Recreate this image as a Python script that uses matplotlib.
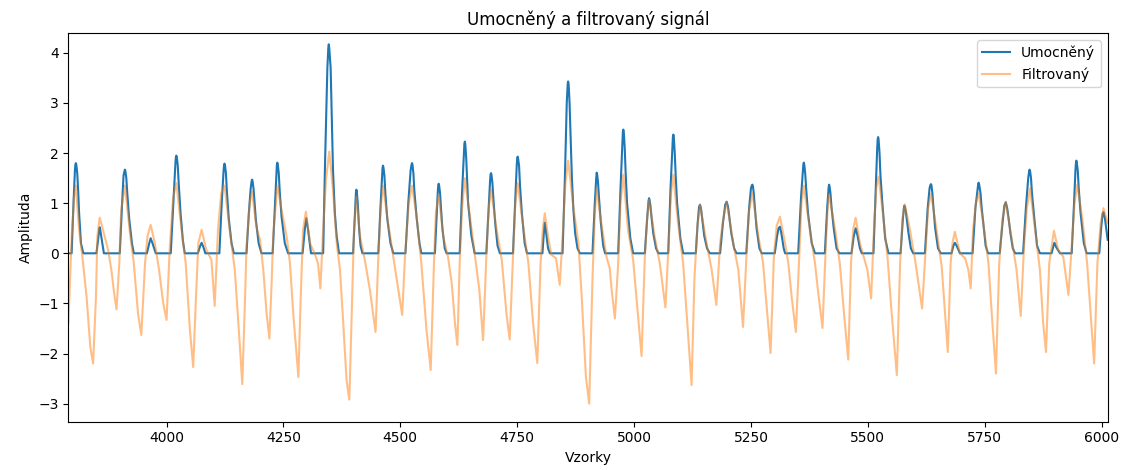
import matplotlib
matplotlib.use("Agg")
import matplotlib.pyplot as plt

# traced vertices of the squared signal, one row per beat (sample index, amplitude)
umocneny_x = [
    [3790, 3797, 3801, 3804, 3805, 3806, 3807, 3809, 3811, 3813, 3817, 3822],
    [3850, 3854, 3856, 3857, 3858, 3861, 3866],
    [3900, 3905, 3908, 3910, 3911, 3912, 3914, 3916, 3920, 3926, 3930],
    [3958, 3963, 3966, 3970, 3977],
    [4009, 4015, 4019, 4020, 4021, 4022, 4024, 4026, 4030, 4035, 4039],
    [4067, 4072, 4075, 4079, 4083],
    [4113, 4118, 4122, 4123, 4124, 4125, 4127, 4129, 4133, 4139, 4144],
    [4171, 4176, 4180, 4182, 4183, 4184, 4186, 4188, 4191, 4197, 4203],
    [4227, 4232, 4235, 4236, 4237, 4238, 4240, 4242, 4246, 4253, 4260],
    [4291, 4296, 4299, 4303, 4309],
    [4335, 4339, 4344, 4346, 4347, 4348, 4351, 4353, 4356, 4360, 4364, 4369],
    [4399, 4403, 4405, 4406, 4407, 4409, 4412, 4415, 4419],
    [4453, 4458, 4461, 4462, 4463, 4464, 4466, 4468, 4472, 4479, 4485],
    [4511, 4517, 4522, 4524, 4525, 4526, 4528, 4530, 4535, 4541, 4545],
    [4574, 4578, 4580, 4581, 4582, 4583, 4585, 4587, 4590, 4595, 4599],
    [4627, 4632, 4636, 4637, 4638, 4639, 4641, 4643, 4645, 4652, 4659],
    [4684, 4689, 4692, 4693, 4694, 4695, 4697, 4699, 4703, 4708, 4713],
    [4741, 4746, 4749, 4750, 4751, 4752, 4754, 4756, 4760, 4766, 4771],
    [4804, 4807, 4809, 4812, 4816, 4820],
    [4847, 4852, 4856, 4858, 4859, 4860, 4862, 4864, 4867, 4870, 4874, 4879, 4884],
    [4911, 4916, 4919, 4920, 4921, 4923, 4925, 4929, 4934, 4938],
    [4966, 4971, 4975, 4976, 4977, 4978, 4980, 4982, 4985, 4992, 4998],
    [5023, 5028, 5031, 5032, 5033, 5035, 5037, 5041, 5047, 5052],
    [5073, 5078, 5082, 5083, 5084, 5085, 5087, 5089, 5092, 5099, 5105],
    [5132, 5136, 5139, 5141, 5143, 5145, 5150, 5156, 5162],
    [5184, 5190, 5195, 5198, 5201, 5204, 5208, 5214, 5219],
    [5240, 5246, 5250, 5252, 5253, 5254, 5256, 5258, 5262, 5268, 5273],
    [5301, 5306, 5309, 5312, 5315, 5320, 5323],
    [5351, 5357, 5361, 5362, 5363, 5364, 5366, 5368, 5372, 5380, 5387],
    [5408, 5413, 5416, 5417, 5418, 5420, 5422, 5427, 5433, 5439],
    [5465, 5470, 5474, 5478, 5483, 5487],
    [5512, 5517, 5520, 5521, 5522, 5523, 5525, 5527, 5531, 5537, 5544],
    [5570, 5575, 5577, 5578, 5579, 5581, 5587, 5592, 5597],
    [5622, 5628, 5632, 5634, 5635, 5636, 5638, 5640, 5644, 5650, 5656],
    [5679, 5683, 5686, 5690, 5697],
    [5724, 5730, 5735, 5736, 5737, 5738, 5741, 5743, 5747, 5752, 5757],
    [5782, 5788, 5792, 5795, 5798, 5801, 5805, 5810, 5815],
    [5832, 5838, 5843, 5845, 5846, 5847, 5849, 5851, 5856, 5862, 5868],
    [5893, 5897, 5899, 5903, 5911],
    [5936, 5941, 5944, 5945, 5946, 5947, 5949, 5951, 5955, 5962, 5968],
    [5995, 5999, 6002, 6004, 6007, 6013],
]
umocneny_y = [
    [0, 0, 1.0, 1.65, 1.77, 1.8, 1.77, 1.6, 1.25, 0.8, 0.2, 0],
    [0, 0.3, 0.48, 0.52, 0.48, 0.3, 0],
    [0, 1.0, 1.55, 1.64, 1.67, 1.64, 1.5, 1.2, 0.7, 0.2, 0],
    [0, 0.2, 0.3, 0.2, 0],
    [0, 1.1, 1.8, 1.92, 1.95, 1.92, 1.75, 1.4, 0.8, 0.25, 0],
    [0, 0.15, 0.21, 0.12, 0],
    [0, 1.0, 1.65, 1.76, 1.79, 1.76, 1.6, 1.25, 0.7, 0.2, 0],
    [0, 0.8, 1.3, 1.44, 1.47, 1.44, 1.3, 1.05, 0.67, 0.2, 0],
    [0, 1.0, 1.6, 1.77, 1.81, 1.77, 1.6, 1.25, 0.73, 0.2, 0],
    [0, 0.5, 0.7, 0.45, 0],
    [0, 1.8, 3.7, 4.1, 4.17, 4.1, 3.7, 2.9, 1.67, 0.8, 0.33, 0],
    [0, 0.8, 1.2, 1.27, 1.22, 1.0, 0.47, 0.15, 0],
    [0, 1.0, 1.55, 1.71, 1.75, 1.71, 1.55, 1.2, 0.7, 0.2, 0],
    [0, 1.0, 1.65, 1.77, 1.8, 1.77, 1.6, 1.25, 0.7, 0.2, 0],
    [0, 0.8, 1.2, 1.34, 1.39, 1.36, 1.2, 0.9, 0.5, 0.1, 0],
    [0, 1.2, 2.0, 2.18, 2.23, 2.18, 1.9, 1.45, 1.0, 0.35, 0],
    [0, 0.9, 1.45, 1.57, 1.6, 1.57, 1.4, 1.1, 0.6, 0.15, 0],
    [0, 1.1, 1.75, 1.89, 1.93, 1.89, 1.75, 1.35, 0.8, 0.2, 0],
    [0, 0.4, 0.61, 0.4, 0.1, 0],
    [0, 1.5, 3.0, 3.38, 3.43, 3.38, 3.0, 2.4, 1.5, 0.9, 0.4, 0.1, 0],
    [0, 1.0, 1.5, 1.61, 1.58, 1.4, 1.1, 0.6, 0.15, 0],
    [0, 1.3, 2.2, 2.42, 2.47, 2.42, 2.1, 1.6, 1.0, 0.3, 0],
    [0, 0.7, 1.05, 1.1, 1.07, 0.95, 0.75, 0.4, 0.1, 0],
    [0, 1.3, 2.15, 2.32, 2.37, 2.32, 2.0, 1.55, 1.0, 0.3, 0],
    [0, 0.6, 0.93, 0.97, 0.9, 0.75, 0.35, 0.1, 0],
    [0, 0.6, 0.97, 1.03, 0.93, 0.7, 0.4, 0.1, 0],
    [0, 0.9, 1.3, 1.36, 1.37, 1.35, 1.2, 0.95, 0.5, 0.1, 0],
    [0, 0.35, 0.5, 0.53, 0.4, 0.1, 0],
    [0, 1.1, 1.65, 1.77, 1.81, 1.77, 1.6, 1.3, 0.8, 0.2, 0],
    [0, 0.9, 1.3, 1.37, 1.34, 1.2, 0.95, 0.5, 0.1, 0],
    [0, 0.35, 0.5, 0.35, 0.1, 0],
    [0, 1.3, 2.1, 2.27, 2.32, 2.27, 2.0, 1.55, 1.0, 0.3, 0],
    [0, 0.7, 0.9, 0.95, 0.93, 0.85, 0.4, 0.1, 0],
    [0, 0.9, 1.3, 1.37, 1.38, 1.36, 1.2, 0.95, 0.5, 0.1, 0],
    [0, 0.15, 0.21, 0.15, 0],
    [0, 0.9, 1.3, 1.38, 1.41, 1.38, 1.2, 0.95, 0.6, 0.15, 0],
    [0, 0.6, 0.95, 1.02, 0.9, 0.7, 0.4, 0.1, 0],
    [0, 0.9, 1.5, 1.64, 1.67, 1.64, 1.5, 1.2, 0.7, 0.15, 0],
    [0, 0.15, 0.21, 0.12, 0],
    [0, 1.0, 1.65, 1.8, 1.85, 1.8, 1.65, 1.3, 0.8, 0.2, 0],
    [0, 0.5, 0.78, 0.82, 0.7, 0.27],
]

# traced vertices of the filtered signal
filtrovany_x = [
    3790, 3797, 3802, 3806, 3813, 3820, 3829, 3837, 3843, 3849,
    3852, 3857, 3864, 3875, 3882, 3888, 3893, 3899, 3903, 3911,
    3921, 3930, 3939, 3946, 3954, 3959, 3966, 3975, 3984, 3993,
    4000, 4007, 4014, 4021, 4032, 4041, 4050, 4057, 4063, 4068,
    4075, 4085, 4096, 4103, 4110, 4117, 4124, 4135, 4146, 4157,
    4162, 4168, 4171, 4178, 4183, 4192, 4200, 4207, 4214, 4220,
    4225, 4228, 4237, 4246, 4257, 4264, 4271, 4282, 4287, 4292,
    4298, 4307, 4317, 4324, 4329, 4335, 4341, 4348, 4356, 4364,
    4371, 4378, 4385, 4391, 4396, 4401, 4406, 4414, 4424, 4435,
    4447, 4453, 4458, 4463, 4474, 4485, 4496, 4504, 4510, 4518,
    4525, 4535, 4545, 4556, 4565, 4572, 4576, 4582, 4592, 4602,
    4610, 4617, 4622, 4627, 4632, 4638, 4649, 4659, 4669, 4677,
    4684, 4689, 4694, 4706, 4717, 4727, 4734, 4741, 4746, 4751,
    4763, 4774, 4784, 4793, 4800, 4805, 4809, 4816, 4823, 4833,
    4841, 4848, 4853, 4859, 4870, 4881, 4888, 4897, 4904, 4911,
    4916, 4920, 4930, 4941, 4948, 4952, 4959, 4966, 4971, 4977,
    4987, 4998, 5005, 5016, 5023, 5028, 5032, 5044, 5055, 5067,
    5074, 5079, 5084, 5094, 5105, 5114, 5123, 5129, 5135, 5141,
    5155, 5166, 5176, 5184, 5190, 5198, 5212, 5223, 5233, 5241,
    5246, 5253, 5266, 5276, 5283, 5292, 5299, 5305, 5312, 5323,
    5330, 5337, 5346, 5353, 5358, 5363, 5376, 5387, 5394, 5403,
    5410, 5414, 5417, 5430, 5440, 5449, 5458, 5464, 5469, 5474,
    5483, 5492, 5499, 5507, 5513, 5518, 5523, 5533, 5542, 5551,
    5562, 5569, 5574, 5579, 5590, 5601, 5616, 5624, 5629, 5635,
    5647, 5658, 5665, 5671, 5677, 5681, 5686, 5697, 5708, 5715,
    5720, 5725, 5731, 5737, 5747, 5758, 5765, 5774, 5781, 5788,
    5795, 5807, 5818, 5827, 5834, 5840, 5847, 5857, 5868, 5875,
    5881, 5888, 5898, 5907, 5918, 5929, 5936, 5942, 5948, 5959,
    5969, 5979, 5984, 5991, 5998, 6004, 6013,
]
filtrovany_y = [
    -1.4, 0.3, 1.1, 1.35, 0.47, -0.07, -0.87, -1.87, -2.2, -0.87,
    0.33, 0.71, 0.47, 0.07, -0.33, -0.8, -1.12, -0.2, 0.87, 1.35,
    0.47, -0.2, -1.2, -1.63, -0.2, 0.33, 0.57, 0.2, -0.33, -1.0,
    -1.33, 0.13, 1.1, 1.4, 0.47, -0.2, -1.53, -2.27, -0.87, 0.2,
    0.47, 0.07, -0.13, -1.05, 0.47, 1.2, 1.35, 0.47, -0.33, -1.87,
    -2.61, -0.87, 0.13, 1.0, 1.23, 0.53, 0.27, -0.33, -1.2, -1.7,
    -0.53, 0.33, 1.35, 0.87, 0.33, -0.2, -1.2, -2.47, -0.87, 0.47,
    0.83, 0.2, -0.01, -0.2, -0.7, 0.47, 1.47, 2.03, 1.27, 0.2,
    -0.33, -1.4, -2.53, -2.92, -1.2, 0.47, 1.13, 0.33, -0.13, -0.73,
    -1.57, -0.07, 0.9, 1.35, 0.6, -0.07, -0.73, -1.23, -0.07, 1.0,
    1.35, 0.73, -0.2, -1.53, -2.33, -0.2, 0.8, 1.18, 0.33, -0.07,
    -0.6, -1.4, -1.83, -0.2, 0.9, 1.5, 0.73, 0, -0.73, -1.73,
    -0.07, 0.9, 1.27, 0.47, -0.13, -1.2, -1.72, -0.07, 1.0, 1.4,
    0.53, -0.2, -1.4, -2.19, -0.2, 0.5, 0.8, 0.33, -0.03, -0.1,
    -0.63, 0.47, 1.4, 1.85, 0.93, 0.2, -0.87, -2.47, -3.0, -0.53,
    0.8, 1.28, 0.6, -0.07, -0.3, -0.73, -1.3, -0.2, 1.0, 1.57,
    0.47, -0.13, -0.87, -2.05, -0.07, 0.7, 1.07, 0.33, -0.2, -1.08,
    0.2, 1.2, 1.57, 0.6, -0.2, -1.4, -2.63, -0.53, 0.5, 0.97,
    0.2, -0.33, -1.03, 0.2, 0.65, 1.03, 0.2, -0.33, -1.47, 0.07,
    0.85, 1.2, 0.33, -0.2, -1.0, -1.99, -0.07, 0.55, 0.73, 0.2,
    -0.2, -0.87, -1.57, -0.13, 1.0, 1.35, 0.47, -0.2, -0.8, -1.49,
    0.13, 0.9, 1.18, 0.47, -0.2, -1.2, -2.12, -0.2, 0.5, 0.71,
    0.2, -0.1, -0.33, -0.9, 0.47, 1.3, 1.53, 0.73, -0.07, -1.2,
    -2.43, -0.2, 0.7, 0.98, 0.47, -0.13, -1.1, 0.13, 0.9, 1.19,
    0.47, -0.27, -1.2, -1.97, -0.2, 0.2, 0.43, 0.0, -0.1, -0.33,
    -0.7, 0.47, 1.0, 1.2, 0.6, -0.2, -1.2, -2.4, -0.2, 0.7,
    1.02, 0.33, -0.33, -1.25, 0.13, 0.9, 1.3, 0.53, -0.33, -1.4,
    -1.97, -0.2, 0.45, 0.07, -0.07, -0.83, 0.13, 1.0, 1.37, 0.67,
    -0.2, -1.53, -2.2, -0.2, 0.6, 0.9, 0.6,
]

# flatten the beat rows into one trace
umoc_x = [v for row in umocneny_x for v in row]
umoc_y = [v for row in umocneny_y for v in row]

fig = plt.figure(figsize=(11.28, 4.7), dpi=100)
ax = fig.add_axes([0.0606, 0.1028, 0.9214, 0.8263])

ax.plot(umoc_x, umoc_y, label="Umocněný")
ax.plot(filtrovany_x, filtrovany_y, label="Filtrovaný", alpha=0.5)
ax.set_xlim(umoc_x[0], umoc_x[-1])
ax.set_ylim(-3.36, 4.39)

ax.set_title("Umocněný a filtrovaný signál")
ax.set_xlabel("Vzorky")
ax.set_ylabel("Amplituda")
ax.legend(loc="upper right")

fig.savefig("out.png", dpi=100)
